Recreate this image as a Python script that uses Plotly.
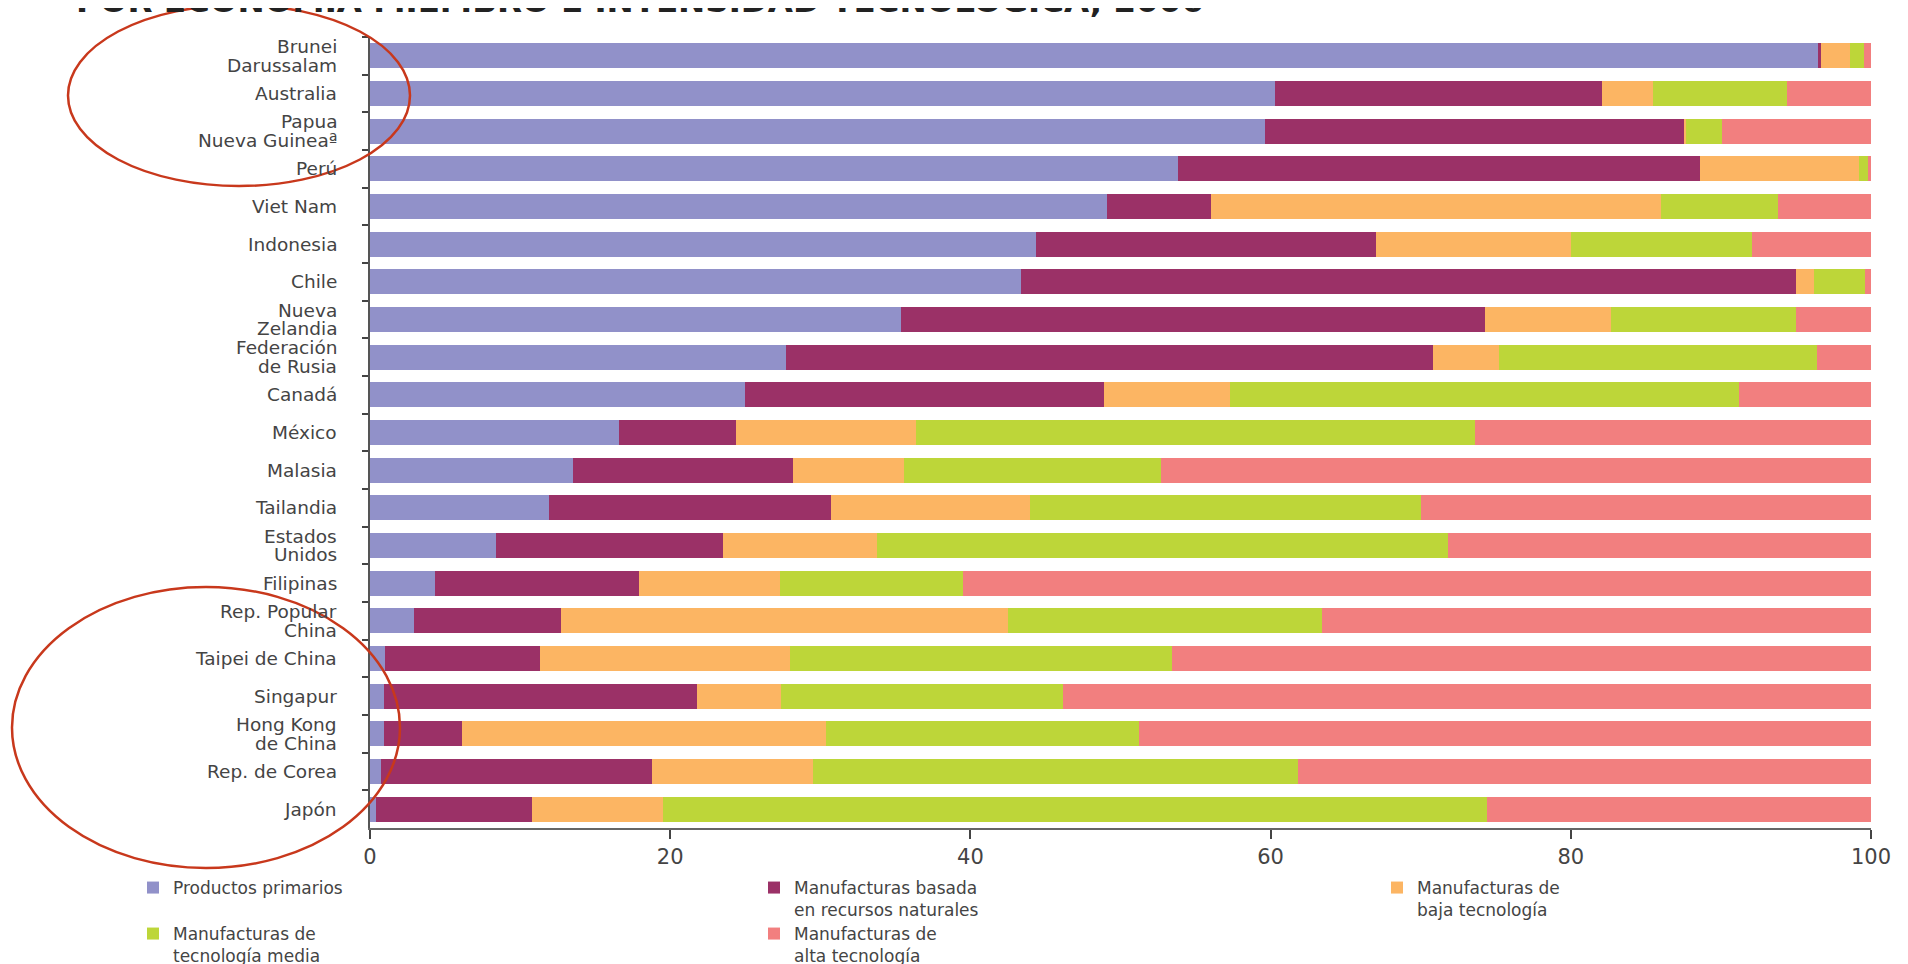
import plotly.graph_objects as go

countries = [
    "Brunei Darussalam", "Australia", "Papua Nueva Guineaª", "Perú", "Viet Nam",
    "Indonesia", "Chile", "Nueva Zelandia", "Federación de Rusia", "Canadá",
    "México", "Malasia", "Tailandia", "Estados Unidos", "Filipinas",
    "Rep. Popular China", "Taipei de China", "Singapur", "Hong Kong de China",
    "Rep. de Corea", "Japón",
]
# how each tick label is broken into lines, as printed in the chart
label_lines = [
    ["Brunei", "Darussalam"], ["Australia"], ["Papua", "Nueva Guineaª"], ["Perú"], ["Viet Nam"],
    ["Indonesia"], ["Chile"], ["Nueva", "Zelandia"], ["Federación", "de Rusia"], ["Canadá"],
    ["México"], ["Malasia"], ["Tailandia"], ["Estados", "Unidos"], ["Filipinas"],
    ["Rep. Popular", "China"], ["Taipei de China"], ["Singapur"], ["Hong Kong", "de China"],
    ["Rep. de Corea"], ["Japón"],
]

primarios = [96.5, 60.3, 59.6, 53.8, 49.1, 44.4, 43.4, 35.4, 27.7, 25.0,
             16.6, 13.5, 11.9, 8.4, 4.3, 2.9, 1.0, 0.9, 0.9, 0.7, 0.4]
recursos = [0.2, 21.8, 28.0, 34.8, 6.9, 22.6, 51.6, 38.9, 43.1, 23.9,
            7.8, 14.7, 18.8, 15.1, 13.6, 9.8, 10.3, 20.9, 5.2, 18.1, 10.4]
baja = [1.9, 3.4, 0.1, 10.6, 30.0, 13.0, 1.2, 8.4, 4.4, 8.4,
        12.0, 7.4, 13.3, 10.3, 9.4, 29.8, 16.7, 5.6, 24.3, 10.7, 8.7]
media = [0.9, 8.9, 2.4, 0.6, 7.8, 12.1, 3.4, 12.3, 21.2, 33.9,
         37.2, 17.1, 26.0, 38.0, 12.2, 20.9, 25.4, 18.8, 20.8, 32.3, 54.9]
alta = [0.5, 5.6, 9.9, 0.2, 6.2, 7.9, 0.4, 5.0, 3.6, 8.8,
        26.4, 47.3, 30.0, 28.2, 60.5, 36.6, 46.6, 53.8, 48.8, 38.2, 25.6]

series_names = [
    "Productos primarios",
    "Manufacturas basada<br>en recursos naturales",
    "Manufacturas de<br>baja tecnología",
    "Manufacturas de<br>tecnología media",
    "Manufacturas de<br>alta tecnología",
]
series_values = [primarios, recursos, baja, media, alta]
colors = ["#9191C9", "#9B3167", "#FCB563", "#BDD639", "#F27F7F"]

x_ticks = [0, 20, 40, 60, 80, 100]
title_text = "POR ECONOMÍA MIEMBRO E INTENSIDAD TECNOLÓGICA, 2006"

W, H = 1908, 964
OFF = 8  # the page body margin shifts the figure by this many pixels
ML, MR, MT, MB = 362, 45, 29, 144
PW, PH = W - ML - MR, H - MT - MB

TXT = "#444444"


def px_x(p):  # figure pixel -> paper x
    return (p - ML) / PW


def px_y(p):  # figure pixel -> paper y
    return 1 - (p - MT) / PH


# legend slots in page pixels: (text start x, first-line centre y)
legend_slots = [(173, 887), (794, 887), (1417, 887), (173, 933), (794, 933)]
legend_ids = ["legend", "legend2", "legend3", "legend4", "legend5"]

fig = go.Figure()
for name, vals, col, lid in zip(series_names, series_values, colors, legend_ids):
    fig.add_trace(go.Bar(
        y=countries, x=vals, name=name, orientation="h", legend=lid,
        marker=dict(color=col, line=dict(width=0)),
    ))

legend_layout = {}
for lid, (tx, ty) in zip(legend_ids, legend_slots):
    legend_layout[lid] = dict(
        xref="container", yref="container",
        x=(tx - 48) / W, y=1 - (ty - 25) / H, xanchor="left", yanchor="top",
        orientation="v", valign="top", bgcolor="rgba(0,0,0,0)", borderwidth=0,
        font=dict(family="DejaVu Sans", size=17, color=TXT),
    )

annotations = []
LINE = 18.6
for cat, lines in zip(countries, label_lines):
    n = len(lines)
    for k, line in enumerate(lines):
        shift = (n - 1) / 2 * LINE - k * LINE
        annotations.append(dict(
            text=line, xref="paper", yref="y", x=px_x(331), y=cat,
            xanchor="right", yanchor="middle", yshift=shift, showarrow=False,
            font=dict(family="DejaVu Sans", size=18.5, color=TXT),
        ))
annotations.append(dict(
    text="<b>" + title_text + "</b>", xref="paper", yref="paper",
    x=px_x(66), y=px_y(-8), xanchor="left", yanchor="middle", showarrow=False,
    font=dict(family="DejaVu Sans", size=32.5, color="#222222"),
))

fig.update_layout(
    width=W, height=H,
    barmode="stack", bargap=0.33,
    paper_bgcolor="white", plot_bgcolor="white",
    margin=dict(l=ML, r=MR, t=MT, b=MB, pad=0, autoexpand=False),
    font=dict(family="DejaVu Sans", size=19, color=TXT),
    showlegend=True,
    xaxis=dict(
        range=[0, 100], tickvals=x_ticks, ticktext=[str(v) for v in x_ticks],
        showgrid=False, zeroline=False, showline=True, linecolor="#666666", linewidth=2,
        ticks="outside", ticklen=9, tickcolor="#444444", tickwidth=2,
        tickfont=dict(family="DejaVu Sans", size=21, color=TXT),
    ),
    yaxis=dict(
        categoryorder="array", categoryarray=countries,
        range=[20.5, -0.5], showgrid=False, zeroline=False,
        showline=True, linecolor="#555555", linewidth=2,
        ticks="outside", tickson="boundaries", ticklen=6, tickcolor="#444444", tickwidth=2,
        showticklabels=False,
    ),
    annotations=annotations,
    shapes=[
        dict(type="circle", xref="paper", yref="paper",
             x0=px_x(68 - OFF), x1=px_x(410 - OFF), y0=px_y(5 - OFF), y1=px_y(186 - OFF),
             line=dict(color="#C8381C", width=2.5)),
        dict(type="circle", xref="paper", yref="paper",
             x0=px_x(12 - OFF), x1=px_x(400 - OFF), y0=px_y(587 - OFF), y1=px_y(868 - OFF),
             line=dict(color="#C8381C", width=2.5)),
    ],
    **legend_layout,
)

fig.write_html("out.html")
